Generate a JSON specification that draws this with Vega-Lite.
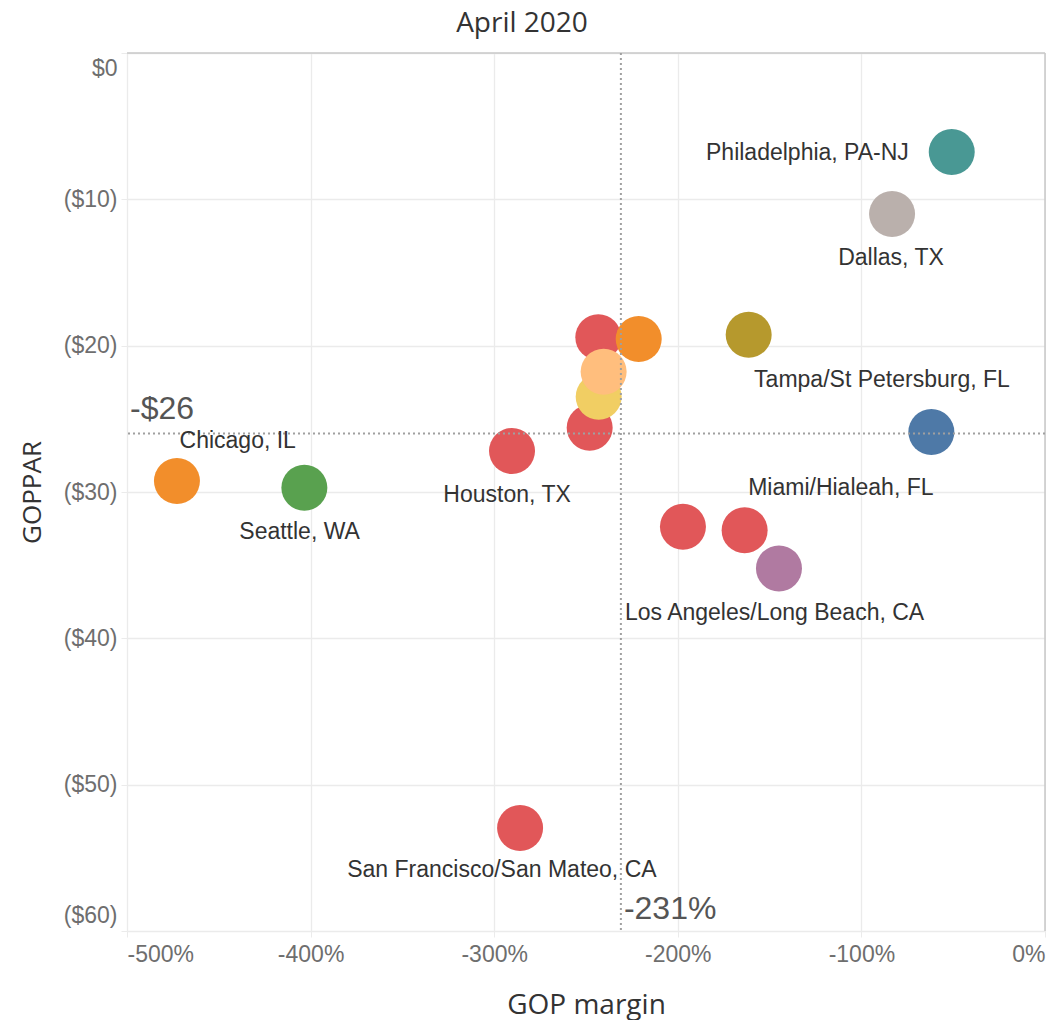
{
  "$schema": "https://vega.github.io/schema/vega-lite/v6.json",
  "autosize": {"type": "none"},
  "width": 918,
  "height": 878,
  "padding": {"left": 127, "top": 53, "right": 1, "bottom": 89},
  "background": "white",
  "title": {"text": "April 2020", "font": "Open Sans", "fontSize": 28, "fontWeight": "normal", "color": "#333333", "anchor": "middle", "dx": -64, "offset": 14},
  "config": {
    "view": {"stroke": null},
    "axis": {
      "domain": false,
      "grid": true,
      "gridColor": "#ebebeb",
      "gridWidth": 1.3,
      "tickColor": "#ebebeb",
      "tickSize": 6,
      "labelFont": "Liberation Sans",
      "labelFontSize": 23,
      "labelColor": "#6e6e6e",
      "labelFlush": true,
      "titleFont": "Open Sans",
      "titleFontSize": 26,
      "titleFontWeight": "normal",
      "titleColor": "#333333"
    }
  },
  "datasets": {
    "points": [
      {"group": "A", "margin": -50.8, "goppar": -6.77},
      {"group": "B", "margin": -83.3, "goppar": -11.0},
      {"group": "C", "margin": -161.4, "goppar": -19.25},
      {"group": "E", "margin": -248.0, "goppar": -25.61},
      {"group": "E", "margin": -243.3, "goppar": -19.43},
      {"group": "D", "margin": -221.3, "goppar": -19.55},
      {"group": "G", "margin": -243.1, "goppar": -23.49},
      {"group": "F", "margin": -240.4, "goppar": -21.78},
      {"group": "E", "margin": -290.3, "goppar": -27.2},
      {"group": "D", "margin": -472.8, "goppar": -29.25},
      {"group": "I", "margin": -403.4, "goppar": -29.71},
      {"group": "H", "margin": -61.9, "goppar": -25.9},
      {"group": "E", "margin": -197.2, "goppar": -32.37},
      {"group": "E", "margin": -163.6, "goppar": -32.62},
      {"group": "J", "margin": -144.9, "goppar": -35.22},
      {"group": "E", "margin": -285.9, "goppar": -52.96}
    ],
    "labels": [
      {"label": "Philadelphia, PA-NJ", "margin": -129.4, "goppar": -6.85},
      {"label": "Dallas, TX", "margin": -83.9, "goppar": -14.01},
      {"label": "Tampa/St Petersburg, FL", "margin": -88.8, "goppar": -22.35},
      {"label": "Miami/Hialeah, FL", "margin": -111.2, "goppar": -29.75},
      {"label": "Los Angeles/Long Beach, CA", "margin": -147.3, "goppar": -38.25},
      {"label": "Chicago, IL", "margin": -439.7, "goppar": -26.5},
      {"label": "Seattle, WA", "margin": -406.0, "goppar": -32.71},
      {"label": "Houston, TX", "margin": -293.0, "goppar": -30.21},
      {"label": "San Francisco/San Mateo, CA", "margin": -295.8, "goppar": -55.83}
    ]
  },
  "encoding": {
    "x": {
      "field": "margin",
      "type": "quantitative",
      "scale": {"domain": [-500, 0], "nice": false, "zero": false},
      "axis": {
        "values": [-500, -400, -300, -200, -100, 0],
        "labelExpr": "datum.value + '%'",
        "labelPadding": 6,
        "title": "GOP margin",
        "titleFontSize": 28,
        "titlePadding": 25
      }
    },
    "y": {
      "field": "goppar",
      "type": "quantitative",
      "scale": {"domain": [-60, 0], "nice": false, "zero": false},
      "axis": {
        "values": [-60, -50, -40, -30, -20, -10, 0],
        "labelExpr": "datum.value == 0 ? '$0' : '($' + abs(datum.value) + ')'",
        "labelPadding": 4,
        "labelFlushOffset": -4,
        "title": "GOPPAR",
        "titlePadding": 18
      }
    }
  },
  "layer": [
    {
      "data": {"values": [{"goppar": 0}]},
      "mark": {"type": "rule", "color": "#c8c8c8", "strokeWidth": 1.5},
      "encoding": {"x": null}
    },
    {
      "data": {"values": [{"margin": 0}]},
      "mark": {"type": "rule", "color": "#c8c8c8", "strokeWidth": 1.5},
      "encoding": {"y": null}
    },
    {
      "data": {"name": "points"},
      "mark": {"type": "circle", "size": 2116, "opacity": 1},
      "encoding": {
        "color": {
          "field": "group",
          "type": "nominal",
          "legend": null,
          "scale": {
            "domain": ["A", "B", "C", "D", "E", "F", "G", "H", "I", "J"],
            "range": ["#499894", "#bab0ac", "#b6992d", "#f28e2b", "#e15759", "#ffbe7d", "#f1ce63", "#4e79a7", "#59a14f", "#b07aa1"]
          }
        }
      }
    },
    {
      "data": {"values": [{"margin": -231}]},
      "mark": {"type": "rule", "color": "#a0a0a0", "strokeWidth": 2, "strokeDash": [2, 3]},
      "encoding": {"y": null}
    },
    {
      "data": {"values": [{"goppar": -26}]},
      "mark": {"type": "rule", "color": "#a0a0a0", "strokeWidth": 2, "strokeDash": [2, 3]},
      "encoding": {"x": null}
    },
    {
      "data": {"name": "labels"},
      "mark": {"type": "text", "font": "Liberation Sans", "fontSize": 23, "color": "#333333", "align": "center", "baseline": "middle"},
      "encoding": {"text": {"field": "label"}}
    },
    {
      "data": {"values": [{"margin": -500, "goppar": -26, "t": "-$26"}]},
      "mark": {"type": "text", "font": "Liberation Sans", "fontSize": 32, "color": "#555555", "align": "left", "baseline": "alphabetic", "dx": 3, "dy": -14},
      "encoding": {"text": {"field": "t"}}
    },
    {
      "data": {"values": [{"margin": -231, "goppar": -60, "t": "-231%"}]},
      "mark": {"type": "text", "font": "Liberation Sans", "fontSize": 32, "color": "#555555", "align": "left", "baseline": "alphabetic", "dx": 3, "dy": -12},
      "encoding": {"text": {"field": "t"}}
    }
  ]
}
